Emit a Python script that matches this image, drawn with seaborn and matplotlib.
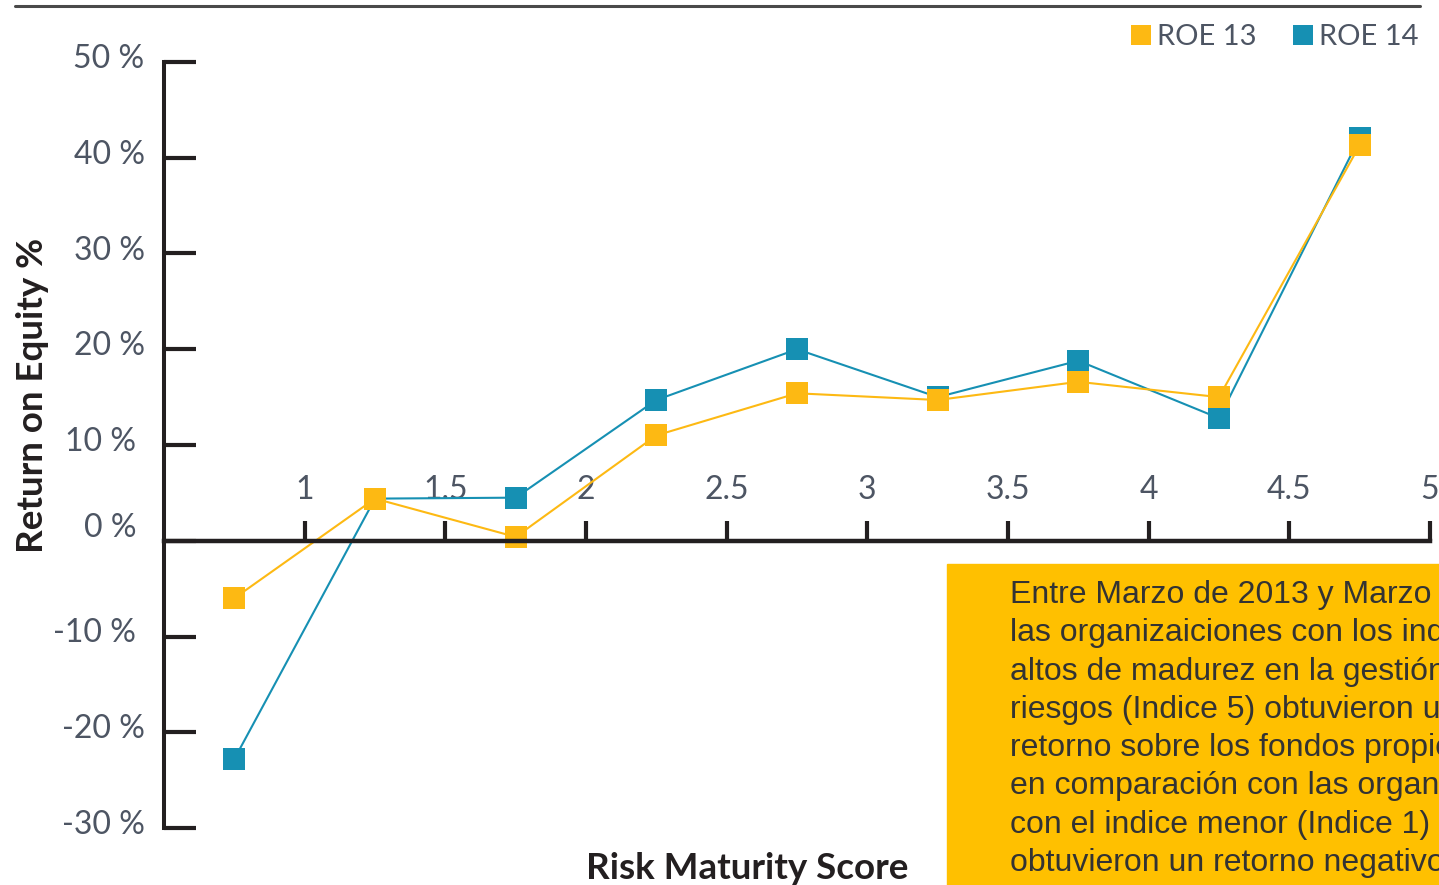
import matplotlib
matplotlib.use('Agg')
import matplotlib.pyplot as plt
import seaborn as sns
import pandas as pd
from matplotlib.lines import Line2D
from matplotlib.patches import Rectangle
from matplotlib.transforms import ScaledTranslation

# ---------------- data ----------------
risk_score = [0.75, 1.25, 1.75, 2.25, 2.75, 3.25, 3.75, 4.25, 4.75]
roe_13 = [-6.0, 4.4, 0.4, 11.0, 15.4, 14.7, 16.6, 15.0, 41.3]
roe_14 = [-22.8, 4.4, 4.5, 14.7, 20.0, 15.0, 18.8, 12.8, 42.1]
series_names = ['ROE 13', 'ROE 14']
series_colors = ['#FDB913', '#1690B3']
x_ticks = [1, 1.5, 2, 2.5, 3, 3.5, 4, 4.5, 5]
x_tick_labels = ['1', '1.5', '2', '2.5', '3', '3.5', '4', '4.5', '5']
y_ticks = [-30, -20, -10, 0, 10, 20, 30, 40, 50]
y_tick_labels = ['-30 %', '-20 %', '-10 %', '0 %', '10 %', '20 %', '30 %', '40 %', '50 %']
x_label = 'Risk Maturity Score'
y_label = 'Return on Equity %'
note_lines = [
    'Entre Marzo de 2013 y Marzo de 2014,',
    'las organizaiciones con los indices más',
    'altos de madurez en la gestión de',
    'riesgos (Indice 5) obtuvieron un',
    'retorno sobre los fondos propios del 41%',
    'en comparación con las organizaciones',
    'con el indice menor (Indice 1) que',
    'obtuvieron un retorno negativo.',
]

# ---------------- style ----------------
sns.set_theme(style='white')
plt.rcParams['font.family'] = ['Lato', 'DejaVu Sans']

W, H = 1439, 885
fig = plt.figure(figsize=(W / 100, H / 100), dpi=100)
fig.patch.set_facecolor('white')
ax = fig.add_axes([164 / W, 1 - 828 / H, (1430 - 164) / W, (828 - 62) / H])
ax.set_facecolor('white')

df = pd.DataFrame({
    'score': risk_score + risk_score,
    'roe': roe_14 + roe_13,
    'series': [series_names[1]] * len(roe_14) + [series_names[0]] * len(roe_13),
})
palette = dict(zip(series_names, series_colors))
sns.lineplot(data=df, x='score', y='roe', hue='series',
             hue_order=[series_names[1], series_names[0]], palette=palette,
             marker='s', markersize=15.5, markeredgewidth=0, linewidth=1.5,
             legend=False, ax=ax, clip_on=False)

ax.set_xlim(0.5, 5)
ax.set_ylim(-30, 50)

ink = '#231f20'
tick_color = '#4d5563'
for s in ['top', 'right']:
    ax.spines[s].set_visible(False)
ax.spines['bottom'].set_position(('data', 0))
ax.spines['left'].set_linewidth(2.9)
ax.spines['bottom'].set_linewidth(3.2)
ax.spines['left'].set_color(ink)
ax.spines['bottom'].set_color(ink)

ax.set_xticks(x_ticks)
ax.set_xticklabels(x_tick_labels)
ax.set_yticks(y_ticks)
ax.set_yticklabels(y_tick_labels)
ax.tick_params(axis='y', direction='in', length=23, width=3, color=ink,
               pad=14, labelsize=23, labelcolor=tick_color, left=True)
ax.tick_params(axis='x', direction='in', length=14.5, width=3, color=ink,
               pad=-47, labelsize=23, labelcolor=tick_color, bottom=True)

# small offsets of y tick labels as in the reference
for lbl, txt in zip(ax.get_yticklabels(), y_tick_labels):
    dx, dy = 0, 6
    if txt in ('10 %', '-10 %'):
        dx = -9
    if txt == '0 %':
        dx, dy = -8, 16
    lbl.set_transform(lbl.get_transform() + ScaledTranslation(dx / 100, dy / 100, fig.dpi_scale_trans))

ax.set_xlabel(x_label, fontsize=26.5, fontweight='bold', color=ink)
ax.xaxis.set_label_coords(0.4605, -0.031)
ax.set_ylabel(y_label, fontsize=26.5, fontweight='bold', color=ink)
ax.yaxis.set_label_coords(-0.091, 0.565)

# legend
handles = [Line2D([], [], marker='s', ls='', color=c, markersize=15, markeredgewidth=0)
           for c in series_colors]
fig.legend(handles, series_names, loc='center right', bbox_to_anchor=(0.986, 0.958),
           ncol=2, frameon=False, fontsize=21, labelcolor=tick_color,
           handlelength=0.8, handletextpad=0.15, columnspacing=1.2,
           borderpad=0, borderaxespad=0)

# top rule
fig.add_artist(Line2D([15 / W, 1420 / W], [1 - 5.5 / H] * 2, transform=fig.transFigure,
                      color='#4a4a4a', lw=2.2))

# yellow note box
fig.add_artist(Rectangle((947 / W, 0), 1 - 947 / W + 0.01, 1 - 564 / H,
                         transform=fig.transFigure, color='#FFC000', zorder=3))
fig.text(1010 / W, 1 - 580 / H, '\n'.join(note_lines), fontsize=23,
         family=['Liberation Sans', 'DejaVu Sans'], color='#333333',
         va='top', ha='left', linespacing=1.36, zorder=4)

fig.savefig('out.png', dpi=100)
